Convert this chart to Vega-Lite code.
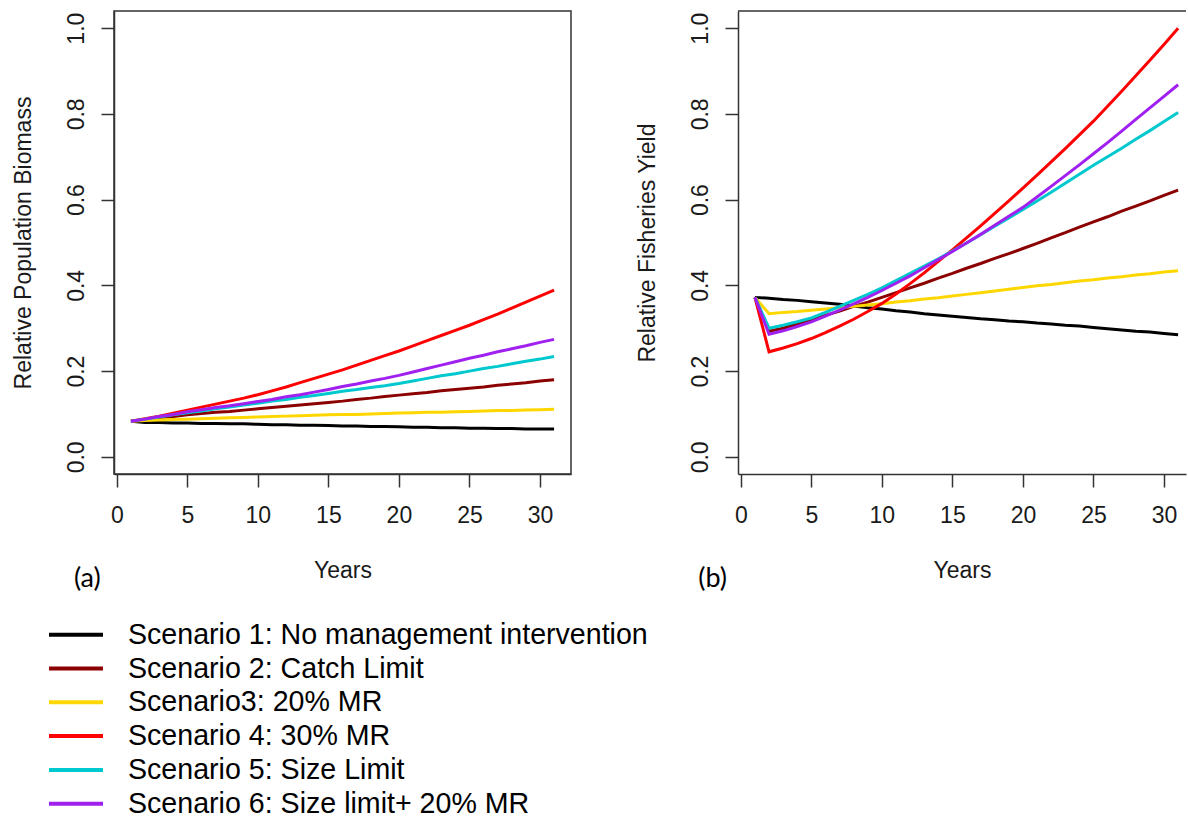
{
"$schema": "https://vega.github.io/schema/vega-lite/v6.json",
"background": "white",
"padding": {"left": 11, "top": 10, "right": 0, "bottom": 0},
"bounds": "flush",
"spacing": 167,
"datasets": {
"names": [
{"s":1,"scenario":"Scenario 1: No management intervention"},
{"s":2,"scenario":"Scenario 2: Catch Limit"},
{"s":3,"scenario":"Scenario3: 20% MR"},
{"s":4,"scenario":"Scenario 4: 30% MR"},
{"s":5,"scenario":"Scenario 5: Size Limit"},
{"s":6,"scenario":"Scenario 6: Size limit+ 20% MR"}
],
"biomass": [
{"s":1,"x":1,"y":0.083},{"s":1,"x":2,"y":0.080},{"s":1,"x":3,"y":0.080},{"s":1,"x":4,"y":0.079},{"s":1,"x":5,"y":0.079},{"s":1,"x":6,"y":0.078},{"s":1,"x":7,"y":0.078},{"s":1,"x":8,"y":0.077},{"s":1,"x":9,"y":0.077},{"s":1,"x":10,"y":0.076},{"s":1,"x":11,"y":0.075},{"s":1,"x":12,"y":0.075},{"s":1,"x":13,"y":0.074},{"s":1,"x":14,"y":0.074},{"s":1,"x":15,"y":0.073},{"s":1,"x":16,"y":0.072},{"s":1,"x":17,"y":0.072},{"s":1,"x":18,"y":0.071},{"s":1,"x":19,"y":0.071},{"s":1,"x":20,"y":0.070},{"s":1,"x":21,"y":0.069},{"s":1,"x":22,"y":0.069},{"s":1,"x":23,"y":0.068},{"s":1,"x":24,"y":0.068},{"s":1,"x":25,"y":0.067},{"s":1,"x":26,"y":0.067},{"s":1,"x":27,"y":0.066},{"s":1,"x":28,"y":0.066},{"s":1,"x":29,"y":0.065},{"s":1,"x":30,"y":0.065},{"s":1,"x":31,"y":0.065},
{"s":2,"x":1,"y":0.083},{"s":2,"x":2,"y":0.087},{"s":2,"x":3,"y":0.091},{"s":2,"x":4,"y":0.094},{"s":2,"x":5,"y":0.098},{"s":2,"x":6,"y":0.101},{"s":2,"x":7,"y":0.104},{"s":2,"x":8,"y":0.106},{"s":2,"x":9,"y":0.109},{"s":2,"x":10,"y":0.112},{"s":2,"x":11,"y":0.115},{"s":2,"x":12,"y":0.118},{"s":2,"x":13,"y":0.121},{"s":2,"x":14,"y":0.124},{"s":2,"x":15,"y":0.127},{"s":2,"x":16,"y":0.130},{"s":2,"x":17,"y":0.134},{"s":2,"x":18,"y":0.137},{"s":2,"x":19,"y":0.141},{"s":2,"x":20,"y":0.144},{"s":2,"x":21,"y":0.147},{"s":2,"x":22,"y":0.150},{"s":2,"x":23,"y":0.154},{"s":2,"x":24,"y":0.157},{"s":2,"x":25,"y":0.160},{"s":2,"x":26,"y":0.163},{"s":2,"x":27,"y":0.167},{"s":2,"x":28,"y":0.170},{"s":2,"x":29,"y":0.173},{"s":2,"x":30,"y":0.177},{"s":2,"x":31,"y":0.180},
{"s":3,"x":1,"y":0.083},{"s":3,"x":2,"y":0.085},{"s":3,"x":3,"y":0.086},{"s":3,"x":4,"y":0.087},{"s":3,"x":5,"y":0.088},{"s":3,"x":6,"y":0.089},{"s":3,"x":7,"y":0.090},{"s":3,"x":8,"y":0.091},{"s":3,"x":9,"y":0.092},{"s":3,"x":10,"y":0.093},{"s":3,"x":11,"y":0.094},{"s":3,"x":12,"y":0.095},{"s":3,"x":13,"y":0.096},{"s":3,"x":14,"y":0.097},{"s":3,"x":15,"y":0.098},{"s":3,"x":16,"y":0.099},{"s":3,"x":17,"y":0.099},{"s":3,"x":18,"y":0.100},{"s":3,"x":19,"y":0.101},{"s":3,"x":20,"y":0.102},{"s":3,"x":21,"y":0.103},{"s":3,"x":22,"y":0.104},{"s":3,"x":23,"y":0.104},{"s":3,"x":24,"y":0.105},{"s":3,"x":25,"y":0.106},{"s":3,"x":26,"y":0.107},{"s":3,"x":27,"y":0.108},{"s":3,"x":28,"y":0.108},{"s":3,"x":29,"y":0.109},{"s":3,"x":30,"y":0.110},{"s":3,"x":31,"y":0.111},
{"s":4,"x":1,"y":0.083},{"s":4,"x":2,"y":0.089},{"s":4,"x":3,"y":0.095},{"s":4,"x":4,"y":0.102},{"s":4,"x":5,"y":0.109},{"s":4,"x":6,"y":0.116},{"s":4,"x":7,"y":0.123},{"s":4,"x":8,"y":0.130},{"s":4,"x":9,"y":0.137},{"s":4,"x":10,"y":0.145},{"s":4,"x":11,"y":0.154},{"s":4,"x":12,"y":0.163},{"s":4,"x":13,"y":0.173},{"s":4,"x":14,"y":0.183},{"s":4,"x":15,"y":0.193},{"s":4,"x":16,"y":0.203},{"s":4,"x":17,"y":0.214},{"s":4,"x":18,"y":0.225},{"s":4,"x":19,"y":0.236},{"s":4,"x":20,"y":0.247},{"s":4,"x":21,"y":0.259},{"s":4,"x":22,"y":0.271},{"s":4,"x":23,"y":0.283},{"s":4,"x":24,"y":0.295},{"s":4,"x":25,"y":0.307},{"s":4,"x":26,"y":0.320},{"s":4,"x":27,"y":0.333},{"s":4,"x":28,"y":0.347},{"s":4,"x":29,"y":0.361},{"s":4,"x":30,"y":0.375},{"s":4,"x":31,"y":0.389},
{"s":5,"x":1,"y":0.083},{"s":5,"x":2,"y":0.088},{"s":5,"x":3,"y":0.093},{"s":5,"x":4,"y":0.098},{"s":5,"x":5,"y":0.103},{"s":5,"x":6,"y":0.107},{"s":5,"x":7,"y":0.112},{"s":5,"x":8,"y":0.116},{"s":5,"x":9,"y":0.121},{"s":5,"x":10,"y":0.125},{"s":5,"x":11,"y":0.130},{"s":5,"x":12,"y":0.134},{"s":5,"x":13,"y":0.139},{"s":5,"x":14,"y":0.143},{"s":5,"x":15,"y":0.148},{"s":5,"x":16,"y":0.153},{"s":5,"x":17,"y":0.157},{"s":5,"x":18,"y":0.162},{"s":5,"x":19,"y":0.166},{"s":5,"x":20,"y":0.171},{"s":5,"x":21,"y":0.177},{"s":5,"x":22,"y":0.183},{"s":5,"x":23,"y":0.189},{"s":5,"x":24,"y":0.194},{"s":5,"x":25,"y":0.200},{"s":5,"x":26,"y":0.206},{"s":5,"x":27,"y":0.211},{"s":5,"x":28,"y":0.217},{"s":5,"x":29,"y":0.223},{"s":5,"x":30,"y":0.228},{"s":5,"x":31,"y":0.234},
{"s":6,"x":1,"y":0.083},{"s":6,"x":2,"y":0.088},{"s":6,"x":3,"y":0.094},{"s":6,"x":4,"y":0.099},{"s":6,"x":5,"y":0.105},{"s":6,"x":6,"y":0.110},{"s":6,"x":7,"y":0.115},{"s":6,"x":8,"y":0.119},{"s":6,"x":9,"y":0.124},{"s":6,"x":10,"y":0.129},{"s":6,"x":11,"y":0.134},{"s":6,"x":12,"y":0.140},{"s":6,"x":13,"y":0.145},{"s":6,"x":14,"y":0.151},{"s":6,"x":15,"y":0.157},{"s":6,"x":16,"y":0.164},{"s":6,"x":17,"y":0.170},{"s":6,"x":18,"y":0.177},{"s":6,"x":19,"y":0.183},{"s":6,"x":20,"y":0.190},{"s":6,"x":21,"y":0.198},{"s":6,"x":22,"y":0.206},{"s":6,"x":23,"y":0.214},{"s":6,"x":24,"y":0.222},{"s":6,"x":25,"y":0.230},{"s":6,"x":26,"y":0.237},{"s":6,"x":27,"y":0.245},{"s":6,"x":28,"y":0.252},{"s":6,"x":29,"y":0.259},{"s":6,"x":30,"y":0.267},{"s":6,"x":31,"y":0.274}
],
"yield": [
{"s":1,"x":1,"y":0.372},{"s":1,"x":2,"y":0.370},{"s":1,"x":3,"y":0.367},{"s":1,"x":4,"y":0.365},{"s":1,"x":5,"y":0.362},{"s":1,"x":6,"y":0.359},{"s":1,"x":7,"y":0.356},{"s":1,"x":8,"y":0.352},{"s":1,"x":9,"y":0.348},{"s":1,"x":10,"y":0.345},{"s":1,"x":11,"y":0.341},{"s":1,"x":12,"y":0.338},{"s":1,"x":13,"y":0.334},{"s":1,"x":14,"y":0.331},{"s":1,"x":15,"y":0.328},{"s":1,"x":16,"y":0.325},{"s":1,"x":17,"y":0.322},{"s":1,"x":18,"y":0.320},{"s":1,"x":19,"y":0.317},{"s":1,"x":20,"y":0.315},{"s":1,"x":21,"y":0.312},{"s":1,"x":22,"y":0.310},{"s":1,"x":23,"y":0.307},{"s":1,"x":24,"y":0.305},{"s":1,"x":25,"y":0.302},{"s":1,"x":26,"y":0.299},{"s":1,"x":27,"y":0.296},{"s":1,"x":28,"y":0.293},{"s":1,"x":29,"y":0.291},{"s":1,"x":30,"y":0.288},{"s":1,"x":31,"y":0.285},
{"s":2,"x":1,"y":0.372},{"s":2,"x":2,"y":0.293},{"s":2,"x":3,"y":0.300},{"s":2,"x":4,"y":0.310},{"s":2,"x":5,"y":0.320},{"s":2,"x":6,"y":0.330},{"s":2,"x":7,"y":0.340},{"s":2,"x":8,"y":0.351},{"s":2,"x":9,"y":0.361},{"s":2,"x":10,"y":0.372},{"s":2,"x":11,"y":0.383},{"s":2,"x":12,"y":0.394},{"s":2,"x":13,"y":0.405},{"s":2,"x":14,"y":0.417},{"s":2,"x":15,"y":0.428},{"s":2,"x":16,"y":0.440},{"s":2,"x":17,"y":0.451},{"s":2,"x":18,"y":0.463},{"s":2,"x":19,"y":0.474},{"s":2,"x":20,"y":0.486},{"s":2,"x":21,"y":0.498},{"s":2,"x":22,"y":0.511},{"s":2,"x":23,"y":0.523},{"s":2,"x":24,"y":0.536},{"s":2,"x":25,"y":0.548},{"s":2,"x":26,"y":0.560},{"s":2,"x":27,"y":0.573},{"s":2,"x":28,"y":0.585},{"s":2,"x":29,"y":0.597},{"s":2,"x":30,"y":0.610},{"s":2,"x":31,"y":0.622},
{"s":3,"x":1,"y":0.372},{"s":3,"x":2,"y":0.334},{"s":3,"x":3,"y":0.337},{"s":3,"x":4,"y":0.339},{"s":3,"x":5,"y":0.342},{"s":3,"x":6,"y":0.345},{"s":3,"x":7,"y":0.348},{"s":3,"x":8,"y":0.351},{"s":3,"x":9,"y":0.354},{"s":3,"x":10,"y":0.357},{"s":3,"x":11,"y":0.361},{"s":3,"x":12,"y":0.364},{"s":3,"x":13,"y":0.368},{"s":3,"x":14,"y":0.371},{"s":3,"x":15,"y":0.375},{"s":3,"x":16,"y":0.379},{"s":3,"x":17,"y":0.383},{"s":3,"x":18,"y":0.387},{"s":3,"x":19,"y":0.391},{"s":3,"x":20,"y":0.395},{"s":3,"x":21,"y":0.399},{"s":3,"x":22,"y":0.402},{"s":3,"x":23,"y":0.406},{"s":3,"x":24,"y":0.410},{"s":3,"x":25,"y":0.413},{"s":3,"x":26,"y":0.417},{"s":3,"x":27,"y":0.420},{"s":3,"x":28,"y":0.424},{"s":3,"x":29,"y":0.427},{"s":3,"x":30,"y":0.431},{"s":3,"x":31,"y":0.434},
{"s":4,"x":1,"y":0.372},{"s":4,"x":2,"y":0.245},{"s":4,"x":3,"y":0.254},{"s":4,"x":4,"y":0.264},{"s":4,"x":5,"y":0.276},{"s":4,"x":6,"y":0.290},{"s":4,"x":7,"y":0.305},{"s":4,"x":8,"y":0.321},{"s":4,"x":9,"y":0.339},{"s":4,"x":10,"y":0.358},{"s":4,"x":11,"y":0.380},{"s":4,"x":12,"y":0.404},{"s":4,"x":13,"y":0.429},{"s":4,"x":14,"y":0.456},{"s":4,"x":15,"y":0.483},{"s":4,"x":16,"y":0.511},{"s":4,"x":17,"y":0.539},{"s":4,"x":18,"y":0.568},{"s":4,"x":19,"y":0.597},{"s":4,"x":20,"y":0.627},{"s":4,"x":21,"y":0.657},{"s":4,"x":22,"y":0.688},{"s":4,"x":23,"y":0.719},{"s":4,"x":24,"y":0.751},{"s":4,"x":25,"y":0.783},{"s":4,"x":26,"y":0.818},{"s":4,"x":27,"y":0.853},{"s":4,"x":28,"y":0.889},{"s":4,"x":29,"y":0.925},{"s":4,"x":30,"y":0.962},{"s":4,"x":31,"y":1.000},
{"s":5,"x":1,"y":0.372},{"s":5,"x":2,"y":0.300},{"s":5,"x":3,"y":0.307},{"s":5,"x":4,"y":0.315},{"s":5,"x":5,"y":0.324},{"s":5,"x":6,"y":0.337},{"s":5,"x":7,"y":0.351},{"s":5,"x":8,"y":0.365},{"s":5,"x":9,"y":0.379},{"s":5,"x":10,"y":0.394},{"s":5,"x":11,"y":0.411},{"s":5,"x":12,"y":0.428},{"s":5,"x":13,"y":0.445},{"s":5,"x":14,"y":0.462},{"s":5,"x":15,"y":0.480},{"s":5,"x":16,"y":0.499},{"s":5,"x":17,"y":0.518},{"s":5,"x":18,"y":0.538},{"s":5,"x":19,"y":0.557},{"s":5,"x":20,"y":0.577},{"s":5,"x":21,"y":0.597},{"s":5,"x":22,"y":0.617},{"s":5,"x":23,"y":0.638},{"s":5,"x":24,"y":0.659},{"s":5,"x":25,"y":0.680},{"s":5,"x":26,"y":0.700},{"s":5,"x":27,"y":0.720},{"s":5,"x":28,"y":0.741},{"s":5,"x":29,"y":0.761},{"s":5,"x":30,"y":0.782},{"s":5,"x":31,"y":0.803},
{"s":6,"x":1,"y":0.372},{"s":6,"x":2,"y":0.286},{"s":6,"x":3,"y":0.294},{"s":6,"x":4,"y":0.304},{"s":6,"x":5,"y":0.315},{"s":6,"x":6,"y":0.328},{"s":6,"x":7,"y":0.342},{"s":6,"x":8,"y":0.357},{"s":6,"x":9,"y":0.372},{"s":6,"x":10,"y":0.388},{"s":6,"x":11,"y":0.405},{"s":6,"x":12,"y":0.422},{"s":6,"x":13,"y":0.441},{"s":6,"x":14,"y":0.460},{"s":6,"x":15,"y":0.479},{"s":6,"x":16,"y":0.499},{"s":6,"x":17,"y":0.519},{"s":6,"x":18,"y":0.540},{"s":6,"x":19,"y":0.561},{"s":6,"x":20,"y":0.582},{"s":6,"x":21,"y":0.606},{"s":6,"x":22,"y":0.631},{"s":6,"x":23,"y":0.656},{"s":6,"x":24,"y":0.681},{"s":6,"x":25,"y":0.707},{"s":6,"x":26,"y":0.733},{"s":6,"x":27,"y":0.760},{"s":6,"x":28,"y":0.787},{"s":6,"x":29,"y":0.814},{"s":6,"x":30,"y":0.841},{"s":6,"x":31,"y":0.868}
]
},
"config": {
"view": {"stroke": "#333", "strokeWidth": 1.5},
"axis": {"grid": false, "domainColor": "#333", "domainWidth": 1.5, "tickColor": "#333", "tickWidth": 1.5, "tickSize": 13, "labelFont": "Liberation Sans", "labelFontSize": 23, "labelColor": "#1a1a1a", "titleFont": "Liberation Sans", "titleFontSize": 23, "titleFontWeight": "normal", "titleColor": "#1a1a1a", "labelFlush": false, "labelOverlap": false},
"axisX": {"labelPadding": 17, "titlePadding": 50, "titleBaseline": "alphabetic"},
"axisY": {"labelPadding": 18, "labelAngle": -90, "labelAlign": "center", "labelBaseline": "alphabetic", "titlePadding": 35, "titleBaseline": "alphabetic"}
},
"hconcat": [
{
"width": 457, "height": 463,
"layer": [
{
"data": {"name": "biomass"},
"transform": [{"lookup": "s", "from": {"data": {"name": "names"}, "key": "s", "fields": ["scenario"]}}],
"mark": {"type": "line", "strokeWidth": 3},
"encoding": {
"x": {"field": "x", "type": "quantitative", "scale": {"domain": [-0.2, 32.2], "nice": false, "zero": false}, "axis": {"values": [0,5,10,15,20,25,30], "format": "d", "title": "Years"}},
"y": {"field": "y", "type": "quantitative", "scale": {"domain": [-0.04, 1.04], "nice": false, "zero": false}, "axis": {"values": [0,0.2,0.4,0.6,0.8,1.0], "format": ".1f", "title": "Relative Population Biomass"}},
"color": {"field": "scenario", "type": "nominal",
"scale": {"domain": ["Scenario 1: No management intervention","Scenario 2: Catch Limit","Scenario3: 20% MR","Scenario 4: 30% MR","Scenario 5: Size Limit","Scenario 6: Size limit+ 20% MR"], "range": ["#000000","#8B0000","#FFD700","#FF0000","#00C8CF","#A020F0"]},
"legend": {"orient": "none", "legendX": -53.5, "legendY": 608.2, "title": null, "symbolType": "M-2,0H2", "symbolSize": 729, "symbolStrokeWidth": 4, "labelFont": "Liberation Sans", "labelFontSize": 28.6, "labelColor": "#000", "labelOffset": 36.5, "rowPadding": 2.8, "direction": "vertical", "labelLimit": 0}}
}
},
{
"data": {"values": [{"lab": "(a)"}]},
"mark": {"type": "text", "font": "Lato", "fontSize": 27, "align": "center", "baseline": "middle", "color": "#000"},
"encoding": {"x": {"datum": -2.09, "type": "quantitative"}, "y": {"datum": -0.285, "type": "quantitative"}, "text": {"field": "lab"}}
}
]
},
{
"width": 448, "height": 463,
"view": {"stroke": null},
"layer": [
{
"data": {"name": "yield"},
"transform": [{"lookup": "s", "from": {"data": {"name": "names"}, "key": "s", "fields": ["scenario"]}}],
"mark": {"type": "line", "strokeWidth": 3},
"encoding": {
"x": {"field": "x", "type": "quantitative", "scale": {"domain": [-0.2, 31.56], "nice": false, "zero": false}, "axis": {"values": [0,5,10,15,20,25,30], "format": "d", "title": "Years"}},
"y": {"field": "y", "type": "quantitative", "scale": {"domain": [-0.04, 1.04], "nice": false, "zero": false}, "axis": {"values": [0,0.2,0.4,0.6,0.8,1.0], "format": ".1f", "title": "Relative Fisheries Yield"}},
"color": {"field": "scenario", "type": "nominal",
"scale": {"domain": ["Scenario 1: No management intervention","Scenario 2: Catch Limit","Scenario3: 20% MR","Scenario 4: 30% MR","Scenario 5: Size Limit","Scenario 6: Size limit+ 20% MR"], "range": ["#000000","#8B0000","#FFD700","#FF0000","#00C8CF","#A020F0"]},
"legend": {"orient": "none", "legendX": -53.5, "legendY": 608.2, "title": null, "symbolType": "M-2,0H2", "symbolSize": 729, "symbolStrokeWidth": 4, "labelFont": "Liberation Sans", "labelFontSize": 28.6, "labelColor": "#000", "labelOffset": 36.5, "rowPadding": 2.8, "direction": "vertical", "labelLimit": 0}}
}
},
{
"data": {"values": [{"lab": "top"}]},
"mark": {"type": "rule", "color": "#333", "strokeWidth": 1.5},
"encoding": {"y": {"datum": 1.04, "type": "quantitative"}}
},
{
"data": {"values": [{"lab": "(b)"}]},
"mark": {"type": "text", "font": "Lato", "fontSize": 27, "align": "center", "baseline": "middle", "color": "#000"},
"encoding": {"x": {"datum": -2.0, "type": "quantitative"}, "y": {"datum": -0.285, "type": "quantitative"}, "text": {"field": "lab"}}
}
]
}
]
}
